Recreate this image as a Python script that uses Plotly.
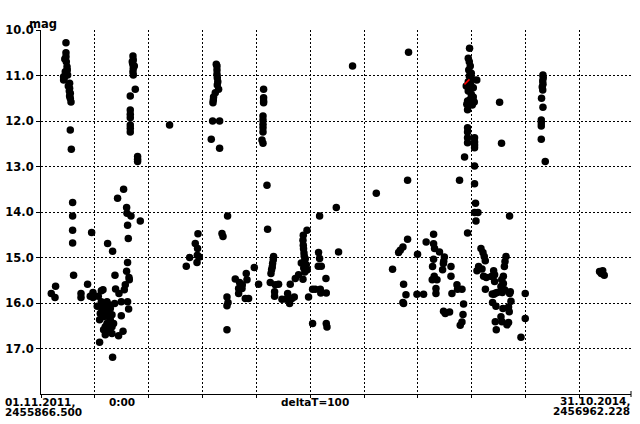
import plotly.graph_objects as go

JD0 = 2455866.5
JD1 = 2456962.228

# observation times (days after JD 2455866.5) and magnitudes
days = [
    46.4, 46.4, 46.4, 47.0, 48.3, 49.4, 42.0, 42.0, 53.1, 53.1, 54.4, 54.4, 55.7,
    44.2, 48.8, 45.1, 43.3, 50.7, 52.6, 53.1,
    54.4, 56.3, 58.7, 58.7, 58.7, 58.7, 60.5, 27.1, 19.1, 26.0,
    86.5, 74.3, 74.3, 96.6, 96.6, 91.5, 94.0, 112.0, 115.1,
    123.7, 133.0, 137.4, 138.5, 144.8, 142.2, 153.4,
    159.0, 159.7, 167.1, 184.4, 160.8, 162.1, 160.8, 159.0, 163.4, 164.0, 156.5, 154.7,
    149.1, 160.8, 162.7, 136.7,
    125.5, 119.4, 113.3, 110.1, 131.8, 128.7, 122.6, 108.8, 131.8, 125.5, 119.4, 131.8,
    144.1, 152.3, 149.1, 116.2, 122.6, 128.7, 113.3, 125.5, 119.4, 134.8, 116.2, 112.0,
    122.6, 108.8, 133.0, 104.5, 106.4,
    170.8, 171.4, 170.5, 171.4, 170.8, 171.4, 169.5, 173.3,
    175.1, 165.8, 165.8, 165.8, 165.8, 165.8, 165.8, 165.8, 179.4, 179.4, 179.4,
    238.8,
    326.8, 326.8, 326.8, 327.4, 328.3, 327.4, 329.8, 323.7, 320.5, 320.0, 319.4, 325.5,
    318.7, 331.7, 316.2, 331.7,
    291.5, 286.5, 290.8, 290.3, 294.0, 276.0, 269.8, 289.7,
    336.1, 338.0, 346.5, 345.4, 347.3, 345.4, 345.4,
    360.8, 368.8, 381.2, 382.5, 367.0, 373.3, 367.0, 379.4, 385.5, 373.8,
    396.1, 404.1,
    413.4, 413.4, 413.4, 413.4, 412.3, 412.3, 412.3, 412.3, 412.3, 410.4, 412.3,
    419.7, 420.8,
    431.9, 431.4, 430.1, 429.5, 428.2, 427.1,
    425.8, 435.1, 441.2, 433.8, 433.8,
    447.5, 455.5, 458.0, 461.7, 466.1, 470.4, 462.9,
    472.3, 478.4, 486.5,
    494.0, 487.1, 486.5, 487.1, 487.6, 488.4, 488.9, 490.8, 488.9, 492.7, 488.0, 494.5,
    489.9, 483.4,
    496.9, 515.5, 517.4, 520.5, 514.9, 529.2,
    504.4, 509.4, 518.7, 519.6, 529.8,
    504.4, 529.8, 531.1,
    517.4, 548.4, 552.6, 578.6,
    682.6,
    795.9, 793.5, 795.4, 797.2, 794.4, 799.1, 795.4, 801.0, 793.5, 798.1, 802.8, 793.5,
    799.1, 802.8, 792.2, 797.2, 804.6, 800.9, 792.2, 790.8, 809.3, 789.8,
    851.7,
    932.2, 932.7, 931.8, 932.2, 930.9, 931.8, 929.6, 932.2, 929.1, 929.1, 929.1, 929.1,
    936.5,
    792.2, 792.2, 792.2, 792.2, 805.2, 805.2, 805.2, 805.2,
    786.6, 855.3, 805.2,
    680.8, 777.3, 622.7, 805.2, 807.0, 805.2, 811.5, 807.8, 870.2, 792.2, 729.1,
    680.8, 672.2, 667.2, 664.1, 715.3, 729.1, 730.9, 699.3, 740.1, 749.1, 747.9, 747.3,
    652.9, 729.1, 727.2, 745.8, 761.4, 730.3, 726.6, 735.4, 761.4,
    673.4, 677.8, 672.2, 673.4, 698.2, 710.5, 733.5, 733.5, 763.2, 772.5, 773.6, 781.8,
    784.8, 747.6, 750.8, 758.8, 783.7, 781.8, 778.6,
    817.1, 820.8, 823.2, 825.1, 812.7, 809.7, 819.0, 822.0, 827.0, 840.6, 842.4, 836.3,
    842.4, 825.3,
    863.6, 861.7, 860.6, 858.7, 855.6, 858.7, 854.2,
    844.3, 847.5, 841.1, 838.1, 856.7, 861.0, 870.3, 871.6, 872.8,
    899.3, 838.6, 844.9, 857.9, 868.3, 869.6, 854.2, 856.1, 843.7, 865.4, 868.3, 845.5,
    899.3, 891.4,
    1037.3, 1040.5, 1046.0, 1043.2,
]
mags = [
    10.28, 10.50, 10.59, 10.70, 10.81, 10.99, 11.03, 11.10, 11.17, 11.28, 11.39, 11.50, 11.58,
    10.64, 10.88, 10.92, 11.05, 11.23, 11.34, 11.45,
    12.20, 12.62, 13.79, 14.09, 14.40, 14.68, 15.39, 15.63, 15.79, 15.88,
    15.59, 15.79, 15.88, 15.77, 15.88, 15.85, 14.45, 15.73, 15.71,
    14.69, 14.86, 15.39, 15.69, 15.79, 13.70, 13.50,
    13.90, 14.03, 14.09, 14.20, 14.29, 14.58, 15.11, 15.30, 15.44, 15.49, 15.60, 15.71,
    15.97, 15.97, 16.13, 16.01,
    16.04, 16.10, 16.15, 16.23, 16.26, 16.37, 16.45, 16.37, 16.52, 16.59, 16.70, 16.67,
    16.72, 16.62, 16.28, 16.30, 16.19, 16.12, 16.04, 16.30, 16.52, 16.45, 16.59, 15.97,
    15.97, 16.86, 17.19, 16.07, 15.85,
    10.57, 10.66, 10.75, 10.84, 10.92, 10.99, 10.70, 10.79,
    11.30, 11.45, 11.76, 11.85, 11.93, 12.09, 12.16, 12.24, 12.78, 12.84, 12.89,
    12.09,
    10.79, 10.88, 10.97, 11.05, 11.14, 11.21, 11.30, 11.38, 11.47, 11.54, 11.60, 10.75,
    12.00, 12.00, 12.40, 12.60,
    14.48, 14.69, 14.80, 14.95, 14.99, 15.00, 15.19, 15.11,
    14.47, 14.54, 14.09, 15.87, 15.99, 16.06, 16.59,
    15.47, 15.55, 15.35, 15.49, 15.68, 15.68, 15.79, 15.90, 15.90, 15.60,
    15.22, 15.59,
    11.30, 11.49, 11.56, 11.60, 11.89, 11.98, 12.07, 12.15, 12.24, 12.42, 12.49,
    13.41, 14.38,
    14.98, 15.05, 15.13, 15.21, 15.27, 15.35,
    15.55, 15.60, 15.59, 15.75, 15.85,
    15.92, 15.92, 15.79, 16.01, 15.90, 15.87, 15.59,
    15.46, 15.38, 15.48,
    14.40, 14.51, 14.62, 14.73, 14.81, 14.90, 14.97, 15.03, 15.10, 15.16, 15.23, 15.27,
    15.32, 15.12,
    15.87, 14.89, 15.02, 15.19, 15.19, 15.46,
    15.70, 15.70, 15.70, 15.78, 15.78,
    16.45, 16.45, 16.53,
    14.09, 13.90, 14.88, 10.79,
    10.49,
    10.40, 10.62, 10.70, 10.79, 10.88, 10.95, 11.01, 11.08, 11.14, 11.21, 11.27, 11.34,
    11.41, 11.47, 11.56, 11.52, 11.58, 11.65, 11.75, 11.63, 11.10, 11.23,
    11.59,
    10.99, 11.05, 11.12, 11.19, 11.25, 11.32, 11.50, 11.70, 11.98, 12.04, 12.11, 12.40,
    12.89,
    12.15, 12.24, 12.37, 12.48, 12.37, 12.46, 12.53, 12.59,
    12.79, 12.49, 12.99,
    13.30, 13.30, 13.59, 13.38, 13.81, 14.01, 14.01, 14.20, 14.09, 14.46, 14.49,
    14.60, 14.77, 14.84, 14.89, 14.66, 14.70, 14.80, 14.93, 14.88, 14.99, 15.08, 15.13,
    15.26, 15.04, 15.20, 15.27, 15.20, 15.41, 15.49, 15.49, 15.41,
    15.59, 15.82, 15.99, 16.01, 15.81, 15.81, 15.68, 15.79, 15.79, 15.60, 15.70, 15.70,
    16.02, 16.18, 16.23, 16.20, 16.25, 16.42, 16.49,
    14.80, 14.89, 14.98, 15.07, 15.20, 15.29, 15.25, 15.41, 15.44, 15.29, 15.38, 15.42,
    15.53, 15.70,
    14.98, 15.09, 15.20, 15.41, 15.49, 15.57, 15.64,
    15.78, 15.77, 15.81, 15.80, 15.77, 15.71, 15.79, 15.75, 15.96,
    15.79, 15.99, 16.07, 16.12, 16.09, 16.19, 16.30, 16.41, 16.41, 16.48, 16.43, 16.59,
    16.34, 16.75,
    15.31, 15.35, 15.39, 15.29,
]

# one highlighted (red) observation
red_days = [791.1]
red_mags = [11.14]

ytick_vals = [10, 11, 12, 13, 14, 15, 16, 17]
ytick_text = ["10.0", "11.0", "12.0", "13.0", "14.0", "15.0", "16.0", "17.0"]

jd = [JD0 + d for d in days]
red_jd = [JD0 + d for d in red_days]

W, H = 640, 424
L, R, T, B = 41, 9, 30, 30
PW, PH = W - L - R, H - T - B

def px(xp):
    return (xp - L) / PW

def py(yp):
    return (H - B - yp) / PH

FONT = "DejaVu Sans"
FS = 11.5
FS_BOTTOM = 10.5

fig = go.Figure()
fig.add_trace(go.Scatter(x=jd, y=mags, mode="markers",
                         marker=dict(symbol="circle", size=7.5, color="black",
                                     line=dict(width=0)),
                         hoverinfo="skip", showlegend=False))
fig.add_trace(go.Scatter(x=red_jd, y=red_mags, mode="markers",
                         marker=dict(symbol="line-ne", size=5,
                                     line=dict(width=1.5, color="red")),
                         hoverinfo="skip", showlegend=False))

fig.update_layout(
    template="none",
    width=W, height=H,
    margin=dict(l=L, r=R, t=T, b=B, pad=0, autoexpand=False),
    paper_bgcolor="white", plot_bgcolor="white",
    font=dict(family=FONT, size=FS, color="black"),
    hovermode=False,
    xaxis=dict(range=[JD0, JD1], tick0=JD0, dtick=100, showticklabels=False,
               automargin=False,
               showgrid=True, gridcolor="black", griddash="2px,2px", gridwidth=1,
               showline=True, linecolor="black", linewidth=1, mirror=False,
               ticks="outside", ticklen=3, tickwidth=1, tickcolor="black",
               zeroline=False),
    yaxis=dict(range=[18, 10], tickvals=ytick_vals, ticktext=ytick_text,
               automargin=False,
               showgrid=True, gridcolor="black", griddash="2px,2px", gridwidth=1,
               showline=True, linecolor="black", linewidth=1, mirror=False,
               ticks="outside", ticklen=4, tickwidth=1, tickcolor="black",
               zeroline=False,
               tickfont=dict(family=FONT, size=FS, weight="bold")),
)

def ann(text, xp, yp, xanchor, size):
    fig.add_annotation(text=text, xref="paper", yref="paper", x=px(xp), y=py(yp),
                       xanchor=xanchor, yanchor="middle", showarrow=False,
                       font=dict(family=FONT, size=size, weight="bold"), borderpad=0)

ann("mag", 28, 24, "left", FS)
ann("01.11.2011,", 4, 402, "left", FS_BOTTOM)
ann("0:00", 108, 402, "left", FS_BOTTOM)
ann("2455866.500", 4, 411.5, "left", FS_BOTTOM)
ann("deltaT=100", 280, 401.5, "left", FS_BOTTOM)
ann("31.10.2014,", 631, 400.5, "right", FS_BOTTOM)
ann("2456962.228", 631, 410.5, "right", FS_BOTTOM)

fig.add_shape(type="line", xref="paper", yref="paper", x0=1, x1=1,
              y0=-3 / PH, y1=3 / PH, line=dict(color="black", width=1))

fig.write_html("out.html",
               config={"displayModeBar": False, "staticPlot": True},
               post_script="document.body.style.margin='0';"
                           "document.body.style.overflow='hidden';")
